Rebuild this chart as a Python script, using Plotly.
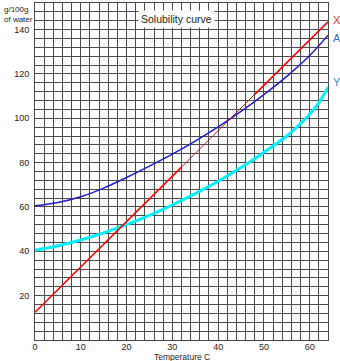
import plotly.graph_objects as go

# Solubility (g per 100 g of water) against temperature (°C)
temp_x = [0, 16, 32, 48, 64]
sol_x = [12.5, 45.2, 78.0, 110.8, 143.5]

temp_a = [0, 5, 10, 15, 20, 25, 30, 35, 40, 45, 50, 55, 60, 64]
sol_a = [60.5, 62.0, 64.6, 68.5, 73.3, 78.4, 83.8, 89.7, 96.1, 103.1, 110.7, 118.9, 128.3, 137.5]

temp_y = [0, 5, 10, 15, 20, 25, 30, 35, 40, 45, 50, 55, 58, 60, 62, 64]
sol_y = [40.5, 42.5, 45.1, 48.3, 52.0, 56.2, 60.9, 66.0, 71.6, 77.8, 84.6, 92.0, 97.6, 101.8, 107.0, 114.0]

x_ticks = [0, 10, 20, 30, 40, 50, 60]
y_ticks = [20, 40, 60, 80, 100, 120, 140]

FONT = "Liberation Sans, Arial, sans-serif"
GRID = "#4a4a4a"

fig = go.Figure()

# Substance Y
fig.add_trace(go.Scatter(x=temp_y, y=sol_y, mode="lines", line_shape="spline",
                         line=dict(color="#00f0ff", width=3), hoverinfo="skip"))
# Substance A
fig.add_trace(go.Scatter(x=temp_a, y=sol_a, mode="lines", line_shape="spline",
                         line=dict(color="#1c1cc8", width=1.5), hoverinfo="skip"))
# Substance X: heavy ends, fine middle section
fig.add_trace(go.Scatter(x=temp_x[2:4], y=sol_x[2:4], mode="lines",
                         line=dict(color="#c00000", width=0.9), hoverinfo="skip"))
fig.add_trace(go.Scatter(x=temp_x[0:3], y=sol_x[0:3], mode="lines",
                         line=dict(color="#ff0000", width=1.6), hoverinfo="skip"))
fig.add_trace(go.Scatter(x=temp_x[3:5], y=sol_x[3:5], mode="lines",
                         line=dict(color="#ff0000", width=1.6), hoverinfo="skip"))

fig.update_layout(
    width=340, height=361,
    margin=dict(l=35, r=12, t=3, b=21),
    paper_bgcolor="white", plot_bgcolor="white",
    showlegend=False,
    font=dict(family=FONT, size=9, color="#222"),
    xaxis=dict(range=[0, 64], tickvals=x_ticks, showgrid=True, gridcolor=GRID,
               gridwidth=1, zeroline=False, showline=True, linecolor=GRID,
               mirror=True, ticks="", ticklabelstandoff=-2,
               minor=dict(dtick=2, showgrid=True, gridcolor=GRID, gridwidth=1)),
    yaxis=dict(range=[0, 152], tickvals=y_ticks, showgrid=True, gridcolor=GRID,
               gridwidth=1, zeroline=False, showline=True, linecolor=GRID,
               mirror=True, ticks="", ticklabelstandoff=3,
               minor=dict(dtick=4, showgrid=True, gridcolor=GRID, gridwidth=1)),
    annotations=[
        dict(text="Solubility curve", x=30.8, y=145, xref="x", yref="y",
             showarrow=False, bgcolor="white", font=dict(size=10.5, color="#222"),
             borderpad=2),
        dict(text="g/100g<br>of water", x=-33 / 293, y=1.0, xref="paper", yref="paper",
             showarrow=False, align="left", xanchor="left", yanchor="top",
             font=dict(size=8, color="#222")),
        dict(text="Temperature C", x=0.5, y=0, xref="paper", yref="paper",
             yanchor="top", yshift=-10, showarrow=False,
             font=dict(size=8.5, color="#222")),
        dict(text="X", x=temp_x[-1], y=sol_x[-1], xref="x", yref="y",
             xanchor="left", xshift=3, yshift=2, showarrow=False,
             font=dict(size=11, color="#e83030")),
        dict(text="A", x=temp_a[-1], y=sol_a[-1], xref="x", yref="y",
             xanchor="left", xshift=3, yshift=-3, showarrow=False,
             font=dict(size=11, color="#2a6fd6")),
        dict(text="Y", x=temp_y[-1], y=sol_y[-1], xref="x", yref="y",
             xanchor="left", xshift=3, yshift=5, showarrow=False,
             font=dict(size=11, color="#2a8fe0")),
    ],
)

fig.write_html("out.html")
